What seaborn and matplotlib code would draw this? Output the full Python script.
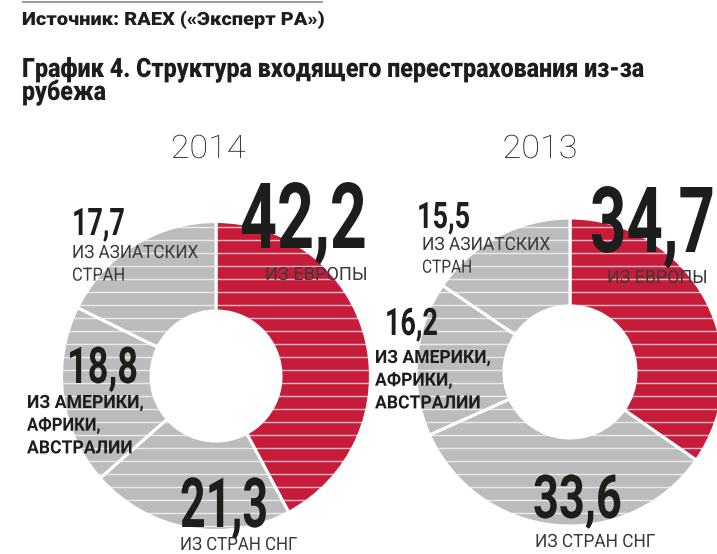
import matplotlib
matplotlib.use("Agg")
import matplotlib.pyplot as plt
import seaborn as sns
from matplotlib.patheffects import AbstractPathEffect
from matplotlib.transforms import Affine2D

# ---------------- data ----------------
years = ["2014", "2013"]
categories = ["ИЗ ЕВРОПЫ", "ИЗ СТРАН СНГ", "ИЗ АМЕРИКИ,\nАФРИКИ,\nАВСТРАЛИИ", "ИЗ АЗИАТСКИХ\nСТРАН"]
values_2014 = [42.2, 21.3, 18.8, 17.7]
values_2013 = [34.7, 33.6, 16.2, 15.5]
source_text = "Источник: RAEX («Эксперт РА»)"
title_lines = ["График 4. Структура входящего перестрахования из-за", "рубежа"]

# ---------------- style ----------------
sns.set_style("white")
plt.rcParams["font.family"] = ["Roboto", "DejaVu Sans"]

W, H = 717, 554
RED = "#C61C3A"
GRAY = "#BCBCBE"
seg_colors = [RED, GRAY, GRAY, GRAY]
DARK = "#1d1d1b"
LIGHT = "#3a3a3a"

fig = plt.figure(figsize=(W / 100, H / 100), dpi=100)
ax = fig.add_axes([0, 0, 1, 1])


class StretchY(AbstractPathEffect):
    """Stretch glyphs vertically about the text baseline (gives a condensed look)."""

    def __init__(self, text, sy):
        super().__init__()
        self.text = text
        self.sy = sy

    def draw_path(self, renderer, gc, tpath, affine, rgbFace=None):
        y0 = self.text.get_transform().transform(self.text.get_position())[1]
        t = affine + Affine2D().translate(0, -y0).scale(1, self.sy).translate(0, y0)
        renderer.draw_path(gc, tpath, t, rgbFace)


fit_list = []


def put(x, y, s, cap, width, weight="bold", color=DARK, ha="left"):
    size = cap * 1.013
    t = ax.text(x, H - y, s, fontsize=size, fontweight=weight, color=color,
                ha=ha, va="baseline", zorder=5)
    fit_list.append((t, width))
    return t


def fmt(v):
    return f"{v:.1f}".replace(".", ",")


# ---------------- donuts ----------------
donuts = [
    dict(vals=values_2014, cx=216, cy=376, R=154.5, r=65),
    dict(vals=values_2013, cx=570, cy=372, R=154.0, r=66),
]
stripe_y = [H - (305 + 13 * k) for k in range(-9, 20)]

for d in donuts:
    wedges, _ = ax.pie(d["vals"], colors=seg_colors, startangle=90, counterclock=False,
                       center=(d["cx"], H - d["cy"]), radius=d["R"],
                       wedgeprops=dict(width=d["R"] - d["r"], edgecolor="white", linewidth=2.2))
    for w in wedges:
        lc = ax.hlines(stripe_y, 0, W, colors="white", linewidth=1.0, alpha=0.7, zorder=3)
        lc.set_clip_path(w)

ax.set_xlim(0, W)
ax.set_ylim(0, H)
ax.axis("off")

# ---------------- header ----------------
ax.plot([22, 323], [H - 2, H - 2], color="#8a8a8a", lw=1.2, solid_capstyle="butt")
put(22, 25, source_text, 13, 301, weight="black")
put(22, 77, title_lines[0], 19, 623, weight="black")
put(22, 100, title_lines[1], 19, 84, weight="black")

# ---------------- labels ----------------
year_pos = [(208, 158, 75), (540, 158, 75)]
num_layout = [
    [(240, 248, 65, 127), (180, 527, 49, 88), (67, 383, 36, 71), (72, 235, 27, 53)],
    [(590, 252, 65, 125), (533, 518, 43, 89), (385, 335, 27, 53), (417, 228, 26, 53)],
]
lab_layout = [
    [(265, 280, "normal", [102]), (180, 550, "normal", [117]),
     (27, 408, "bold", [116, 73, 105]), (72, 258, "normal", [126, 53])],
    [(607, 283, "normal", [100]), (535, 547, "normal", [120]),
     (375, 363, "bold", [115, 77, 105]), (422, 250, "normal", [128, 50])],
]
line_gap = 22.7

for yi, (year, vals) in enumerate(zip(years, [values_2014, values_2013])):
    x, y, w = year_pos[yi]
    put(x, y, year, 23, w, weight="light", color="#222222", ha="center")
    for ci, (cat, v) in enumerate(zip(categories, vals)):
        nx, ny, ncap, nw = num_layout[yi][ci]
        put(nx, ny, fmt(v), ncap, nw)
        lx, ly, lw_, widths = lab_layout[yi][ci]
        col = DARK if lw_ == "bold" else LIGHT
        for li, line in enumerate(cat.split("\n")):
            put(lx, ly + li * line_gap, line, 13, widths[li], weight=lw_, color=col)

# ---------------- fit widths, then stretch vertically to the measured cap height ----------------
fig.canvas.draw()
renderer = fig.canvas.get_renderer()
for t, target in fit_list:
    bw = t.get_window_extent(renderer).width
    if bw > 0:
        f = target / bw
        t.set_fontsize(t.get_fontsize() * f)
        t.set_path_effects([StretchY(t, 1.0 / f)])

fig.savefig("out.png", dpi=100)
